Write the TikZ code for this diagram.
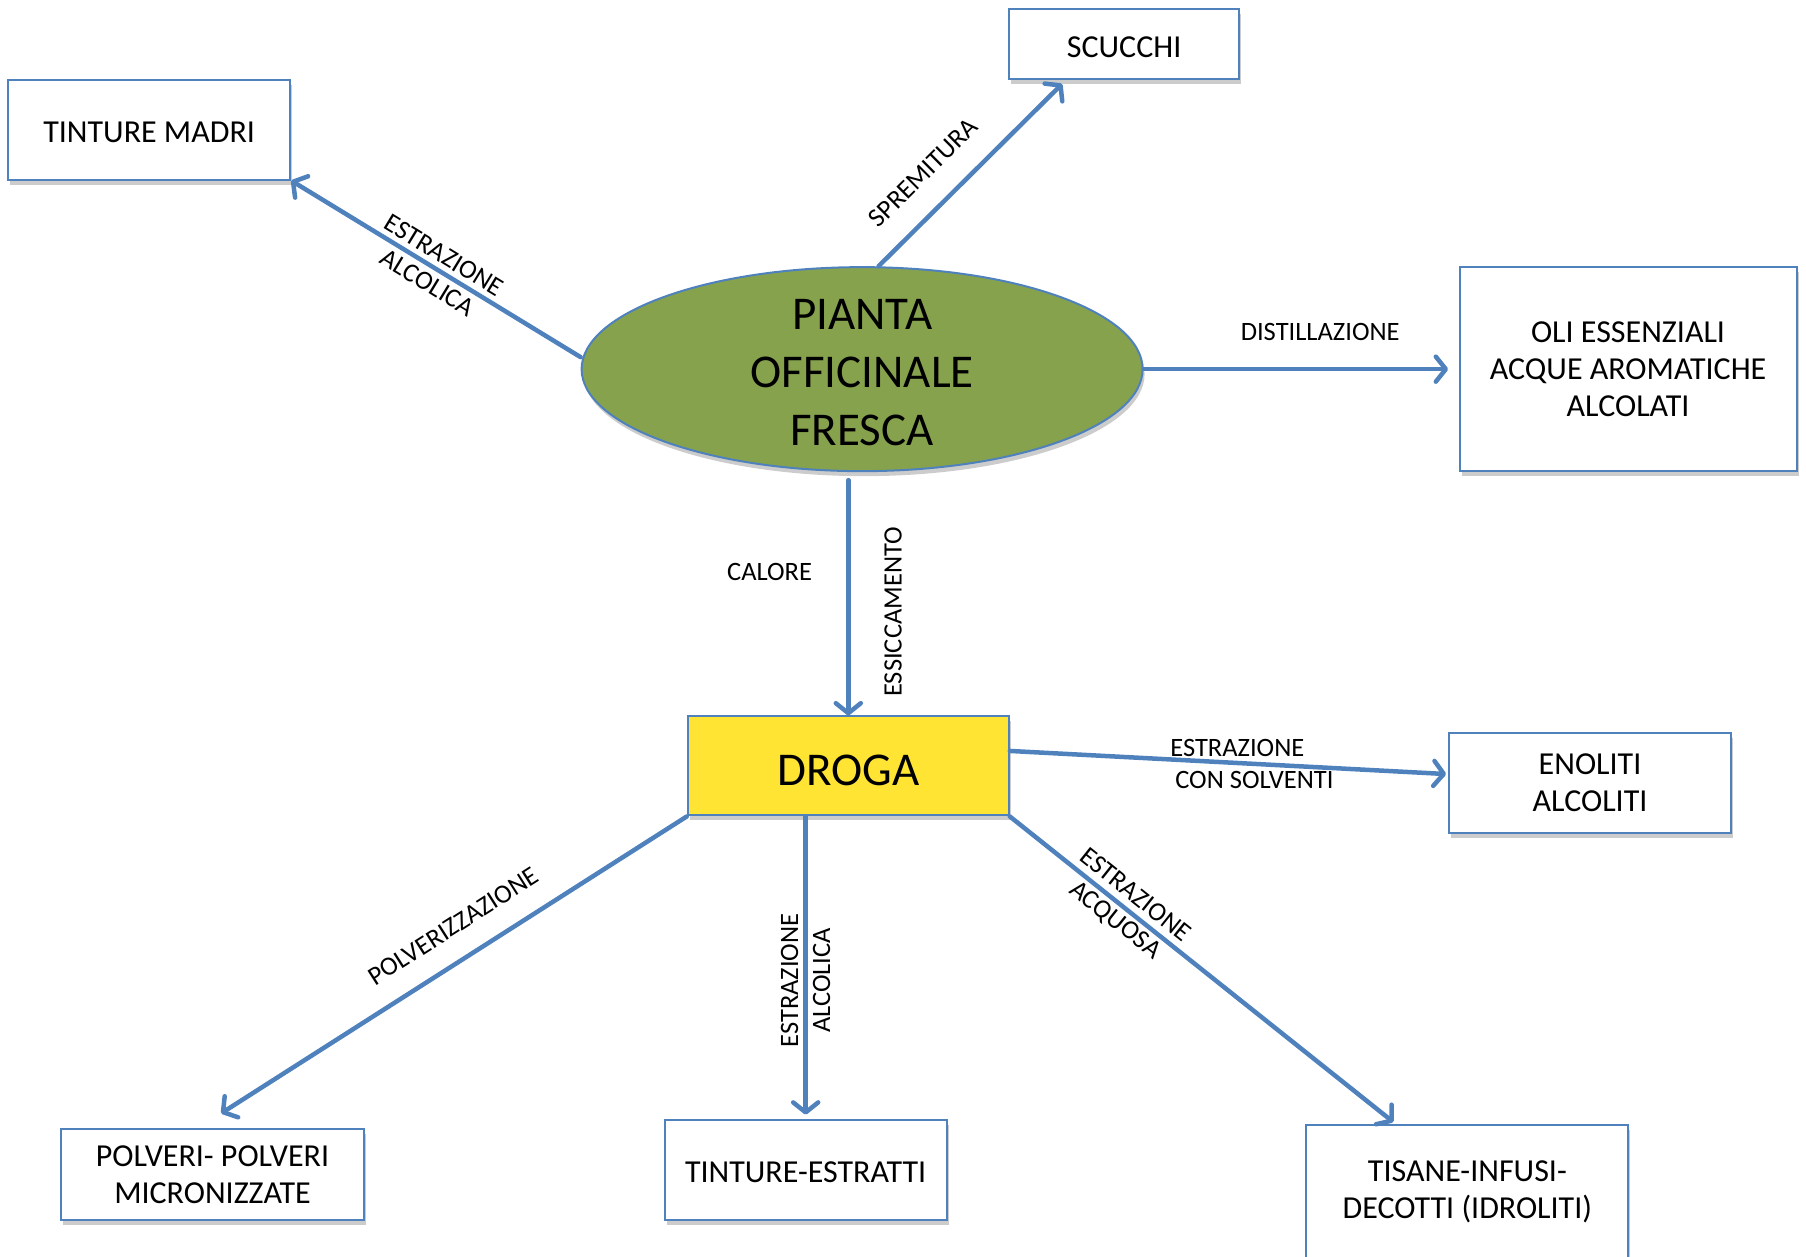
\documentclass[tikz,border=0pt]{standalone}
\usepackage{fontspec}
\setmainfont{Carlito}
\usetikzlibrary{arrows.meta,shapes.geometric,shadows}
\definecolor{lineblue}{HTML}{4F81BD}
\definecolor{plantgreen}{HTML}{87A24D}
\definecolor{drogayellow}{HTML}{FFE433}
\begin{document}
\begin{tikzpicture}[x=1.1518pt,y=-1.1518pt,
  softshadow/.style={drop shadow={shadow xshift=2pt,shadow yshift=-5pt,fill=black,opacity=0.2}},
  box/.style={draw=lineblue,line width=2pt,fill=white,align=center,inner sep=0pt,
    font=\fontsize{32}{37}\selectfont,execute at begin node={\rule{0pt}{0.84em}},softshadow},
  conn/.style={draw=lineblue,line width=4.5pt,line cap=round,
    -{Straight Barb[length=10pt,width=25pt,round]}},
  lbl/.style={font=\fontsize{26.5}{32}\selectfont,align=center,text=black,inner sep=2pt}]
\useasboundingbox (0,0) rectangle (1568,1091);
% nodes
\node[box,minimum width=282pt,minimum height=100pt] (tm) at (129.5,112.5) {TINTURE MADRI};
\node[box,minimum width=230pt,minimum height=70pt] (sc) at (976,38.5) {SCUCCHI};
\node[ellipse,draw=lineblue,line width=2pt,fill=plantgreen,minimum width=561pt,
  minimum height=204pt,inner sep=0pt,softshadow] (pf) at (748.5,320.5) {};
\node[font=\fontsize{47}{57.6}\selectfont,align=center,yshift=-3.5pt] (pft) at (pf.center) {PIANTA\\OFFICINALE\\FRESCA};
\node[box,minimum width=337pt,minimum height=204pt] (oli) at (1413.5,320.5) {OLI ESSENZIALI\\ACQUE AROMATICHE\\ALCOLATI};
\node[box,fill=drogayellow,minimum width=321pt,minimum height=99pt,
  font=\fontsize{47}{57}\selectfont] (dr) at (736.5,665) {DROGA};
\node[box,minimum width=282pt,minimum height=100pt] (en) at (1380.5,679.5) {ENOLITI\\ALCOLITI};
\node[box,minimum width=303pt,minimum height=91pt] (po) at (184.5,1019.5) {POLVERI- POLVERI\\MICRONIZZATE};
\node[box,minimum width=282pt,minimum height=100pt] (te) at (699.5,1015.5) {TINTURE-ESTRATTI};
\node[box,minimum width=322pt,minimum height=134pt] (ti) at (1274,1035) {TISANE-INFUSI-\\DECOTTI (IDROLITI)};
% helper coordinates
\path (pf.south -| dr.north) coordinate (a4s);
\path (dr.south -| te.north) coordinate (a7s);
% connectors
\draw[conn] ([yshift=12pt]pf.west) -- (tm.south east)
  node[lbl,pos=0.5,sloped] {ESTRAZIONE\\ALCOLICA};
\draw[conn] ([xshift=16.5pt]pf.north) -- ([xshift=-62pt,yshift=-3.5pt]sc.south)
  node[lbl,pos=0.377,sloped,above,inner sep=24pt] {SPREMITURA};
\draw[conn] (pf.east) -- ([xshift=-10.5pt]oli.west)
  node[lbl,pos=0.58,above,inner sep=26pt] {DISTILLAZIONE};
\draw[conn] ([yshift=-8pt]a4s) -- (dr.north)
  node[lbl,pos=0.39,left,inner sep=34pt] {CALORE}
  node[lbl,pos=0.56,rotate=90,anchor=north,inner sep=34pt] {ESSICCAMENTO};
\draw[conn] ([yshift=15pt]dr.east) -- ([yshift=8.6pt,xshift=-2pt]en.west)
  node[lbl,pos=0.555,align=left] {ESTRAZIONE\\\hspace*{5pt}CON SOLVENTI};
\draw[conn] (dr.south west) -- ([xshift=8.6pt,yshift=14.4pt]po.north)
  node[lbl,pos=0.463,sloped,above,inner sep=22pt] {POLVERIZZAZIONE};
\draw[conn] (a7s) -- ([yshift=4pt]te.north)
  node[lbl,pos=0.55,rotate=90] {ESTRAZIONE\\ALCOLICA};
\draw[conn] (dr.south east) -- ([xshift=-74pt,yshift=2pt]ti.north)
  node[lbl,pos=0.30,sloped] {ESTRAZIONE\\ACQUOSA};
\end{tikzpicture}
\end{document}
